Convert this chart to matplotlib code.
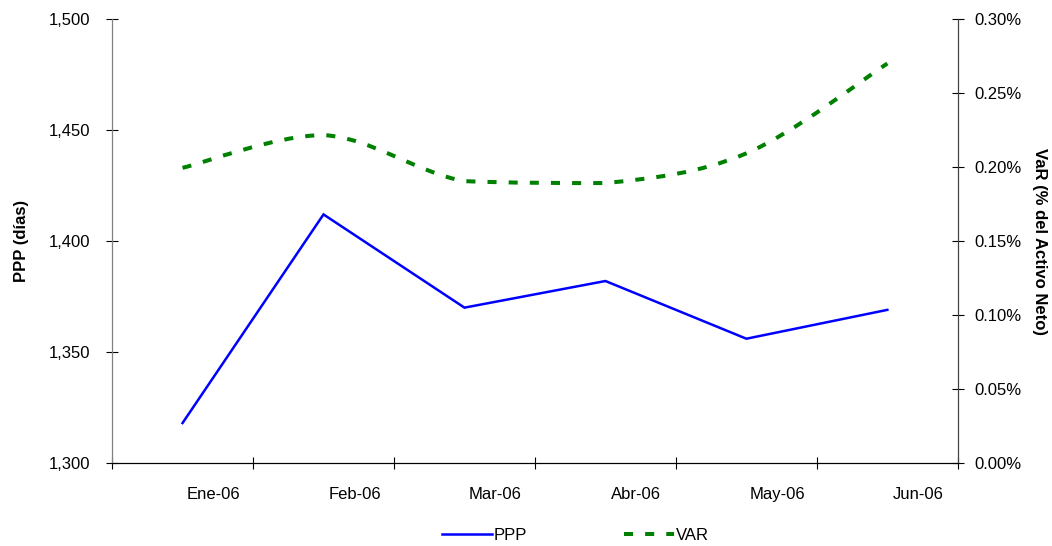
import matplotlib
matplotlib.use('Agg')
import matplotlib.pyplot as plt
from matplotlib.path import Path
from matplotlib.patches import PathPatch
from matplotlib.lines import Line2D
from matplotlib.ticker import FuncFormatter, FixedLocator, NullFormatter

# Data
months = ['Ene-06', 'Feb-06', 'Mar-06', 'Abr-06', 'May-06', 'Jun-06']
ppp = [1318, 1412, 1370, 1382, 1356, 1369]
var = [0.1995, 0.2216, 0.1905, 0.1892, 0.2093, 0.2700]   # % of net assets
left_ticks = [1300, 1350, 1400, 1450, 1500]
right_ticks = [0.0, 0.05, 0.10, 0.15, 0.20, 0.25, 0.30]

plt.rcParams['font.family'] = ['Liberation Sans', 'DejaVu Sans']


def smooth_path(xs, ys):
    # Excel-like smoothed line: cubic bezier through each point,
    # control points kept inside the segment's y range (no overshoot)
    verts = [(xs[0], ys[0])]
    codes = [Path.MOVETO]
    n = len(xs)
    for i in range(n - 1):
        x0, y0 = (xs[i - 1], ys[i - 1]) if i > 0 else (xs[i], ys[i])
        x1, y1 = xs[i], ys[i]
        x2, y2 = xs[i + 1], ys[i + 1]
        x3, y3 = (xs[i + 2], ys[i + 2]) if i + 2 < n else (x2, y2)
        lo, hi = min(y1, y2), max(y1, y2)
        c1y = min(max(y1 + (y2 - y0) / 6.0, lo), hi)
        c2y = min(max(y2 - (y3 - y1) / 6.0, lo), hi)
        c1 = (x1 + (x2 - x0) / 6.0, c1y)
        c2 = (x2 - (x3 - x1) / 6.0, c2y)
        verts += [c1, c2, (x2, y2)]
        codes += [Path.CURVE4] * 3
    return Path(verts, codes)


fig = plt.figure(figsize=(10.52, 5.46), dpi=100)
ax = fig.add_axes([0.1065, 0.152, 0.804, 0.813])
ax2 = ax.twinx()

x = [i + 0.5 for i in range(len(months))]

ax.plot(x, ppp, color='#0000FF', lw=1.8, solid_joinstyle='miter', zorder=3)
ax.set_xlim(0, len(months))
ax.set_ylim(left_ticks[0], left_ticks[-1])
ax.set_yticks(left_ticks)
ax.yaxis.set_major_formatter(FuncFormatter(lambda v, p: '{:,.0f}'.format(v)))

ax.xaxis.set_major_locator(FixedLocator(range(len(months) + 1)))
ax.xaxis.set_major_formatter(NullFormatter())
ax.xaxis.set_minor_locator(FixedLocator([i + 0.72 for i in range(len(months))]))
ax.set_xticklabels(months, minor=True)
ax.tick_params(axis='x', which='minor', length=0, pad=17, labelsize=12)
ax.tick_params(axis='x', which='major', direction='inout', length=8, width=0.8)
ax.tick_params(axis='y', direction='inout', length=8, width=0.8, pad=12, labelsize=12)

vpath = smooth_path(x, [v / 100.0 for v in var])
patch = PathPatch(vpath, fill=False, edgecolor='#008000', lw=2.9,
                  linestyle=(0, (2.25, 3.0)), capstyle='butt', zorder=3)
ax2.add_patch(patch)
ax2.set_ylim(0, 0.003)
ax2.set_yticks([t / 100.0 for t in right_ticks])
ax2.yaxis.set_major_formatter(FuncFormatter(lambda v, p: '{:.2f}%'.format(v * 100)))
ax2.tick_params(axis='y', direction='inout', length=8, width=0.8, pad=8, labelsize=12)

for a in (ax, ax2):
    a.spines['top'].set_visible(False)
    a.spines['left'].set_color('#808080')
    a.spines['right'].set_color('#404040')
    a.spines['bottom'].set_color('black')

ax.set_ylabel('PPP (días)', fontsize=12, fontweight='bold', labelpad=14)
ax2.set_ylabel('VaR (% del Activo Neto)', fontsize=12, fontweight='bold',
               rotation=-90, labelpad=18)

handles = [Line2D([], [], color='#0000FF', lw=1.8),
           Line2D([], [], color='#008000', lw=2.9, linestyle=(0, (2.25, 3.0)))]
fig.legend(handles, ['PPP', 'VAR'], loc='center', bbox_to_anchor=(0.547, 0.02),
           ncol=2, frameon=False, fontsize=12, handlelength=3.0,
           handletextpad=0.1, columnspacing=5.8)

fig.savefig('out.png', dpi=100)
